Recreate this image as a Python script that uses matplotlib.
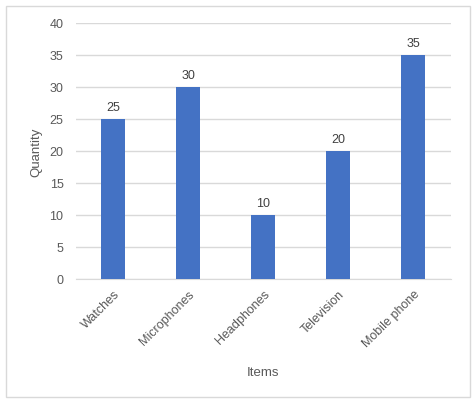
import matplotlib
matplotlib.use('Agg')
import matplotlib.pyplot as plt
from matplotlib.patches import Rectangle

items = ['Watches', 'Microphones', 'Headphones', 'Television', 'Mobile phone']
quantity = [25, 30, 10, 20, 35]
yticks = [0, 5, 10, 15, 20, 25, 30, 35, 40]

text_color = '#595959'
bar_color = '#4472C4'

plt.rcParams['font.family'] = ['Liberation Sans', 'DejaVu Sans']

fig = plt.figure(figsize=(4.77, 4.06), dpi=100)
# outer chart border
fig.patches.append(Rectangle((6 / 477, 1 - 398 / 406), 464 / 477, 391 / 406,
                             transform=fig.transFigure, fill=False,
                             edgecolor='#d9d9d9', linewidth=1))

ax = fig.add_axes([76 / 477, 1 - 280 / 406, 375 / 477, 256 / 406])
x = range(len(items))
bars = ax.bar(x, quantity, width=0.32, color=bar_color, zorder=3)
for xi, v in zip(x, quantity):
    ax.text(xi, v + 1, str(v), ha='center', va='bottom', fontsize=9, color='#404040')

ax.set_xlim(-0.5, len(items) - 0.5)
ax.set_ylim(0, 40)
ax.set_yticks(yticks)
ax.set_yticklabels([str(t) for t in yticks], fontsize=9, color=text_color)
ax.set_xticks(list(x))
ax.set_xticklabels(items, rotation=45, ha='right', rotation_mode='anchor',
                   fontsize=9, color=text_color)
ax.tick_params(axis='y', length=0, pad=9)
ax.tick_params(axis='x', length=0, pad=6)
ax.grid(axis='y', color='#d9d9d9', linewidth=1, zorder=0)
for s in ['top', 'right', 'left']:
    ax.spines[s].set_visible(False)
ax.spines['bottom'].set_color('#d9d9d9')

ax.set_ylabel('Quantity', fontsize=9.5, color=text_color, labelpad=5)
ax.set_xlabel('Items', fontsize=9.5, color=text_color, labelpad=12)

fig.savefig('out.png', dpi=100)
